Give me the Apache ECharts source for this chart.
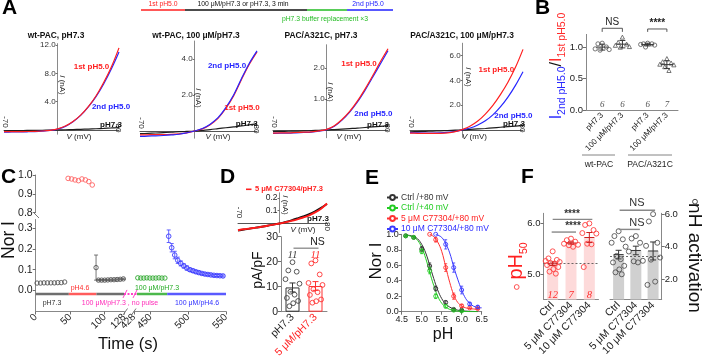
<!DOCTYPE html>
<html>
<head>
<meta charset="utf-8">
<script src="https://cdn.jsdelivr.net/npm/echarts@6.0.0/dist/echarts.min.js"></script>
<style>
html,body{margin:0;padding:0;background:#ffffff;}
#chart{width:703px;height:360px;}
</style>
</head>
<body>
<div id="chart"></div>
<script>
// ================= DATA =================
// Panel A: I-V curves (nA) at these voltages (mV)
const ivVoltage = [-70,-60,-50,-40,-30,-20,-10,0,10,20,30,40,50,60,70,80];
const a1First  = [-0.25,-0.24,-0.23,-0.22,-0.2,-0.15,-0.05,0.15,0.55,1.2,2.1,3.3,4.8,6.7,8.9,11.6];
const a1Second = [-0.3,-0.29,-0.28,-0.26,-0.23,-0.17,-0.07,0.12,0.5,1.15,2.05,3.25,4.7,6.5,8.6,11.0];
const a1Ctrl   = [-0.12,-0.1,-0.09,-0.07,-0.05,-0.04,-0.02,0,0.03,0.06,0.09,0.13,0.17,0.22,0.28,0.35];
const a2First  = [-0.22,-0.21,-0.2,-0.2,-0.19,-0.16,-0.1,0.0,0.12,0.35,0.7,1.25,1.95,2.85,3.7,4.4];
const a2Second = [-0.3,-0.28,-0.27,-0.25,-0.22,-0.18,-0.1,0.0,0.14,0.38,0.74,1.3,2.0,2.9,3.75,4.45];
const a2Ctrl   = [-0.15,-0.13,-0.11,-0.09,-0.07,-0.04,-0.02,0,0.04,0.08,0.13,0.18,0.23,0.28,0.34,0.4];
const a3First  = [-0.1,-0.09,-0.09,-0.08,-0.07,-0.06,-0.03,0.02,0.14,0.34,0.6,0.93,1.32,1.75,2.2,2.62];
const a3Second = [-0.11,-0.1,-0.1,-0.09,-0.08,-0.07,-0.04,0.01,0.12,0.32,0.58,0.9,1.28,1.7,2.13,2.56];
const a3Ctrl   = [-0.05,-0.045,-0.04,-0.035,-0.03,-0.02,-0.01,0,0.015,0.03,0.045,0.06,0.08,0.1,0.12,0.14];
const a4First  = [-0.25,-0.27,-0.28,-0.28,-0.27,-0.23,-0.13,0.05,0.32,0.72,1.28,1.98,2.85,3.85,5.05,6.5];
const a4Second = [-0.22,-0.24,-0.25,-0.25,-0.24,-0.2,-0.12,0.02,0.16,0.4,0.74,1.22,1.86,2.65,3.6,4.7];
const a4Ctrl   = [-0.15,-0.13,-0.11,-0.09,-0.07,-0.05,-0.02,0,0.04,0.08,0.12,0.17,0.22,0.27,0.31,0.35];
const aTitles  = ['wt-PAC, pH7.3','wt-PAC, 100 μM/pH7.3','PAC/A321C, pH7.3','PAC/A321C, 100 μM/pH7.3'];
const aYTicks  = [[4,8,12],[2,4],[1,2],[2,4,6]];
const aXEnds   = ['-70','80'];
const aCurveNames = ['1st pH5.0','2nd pH5.0','pH7.3'];
const aProtocol = ['1st pH5.0','100 μM/pH7.3 or pH7.3, 3 min','2nd pH5.0','pH7.3 buffer replacement ×3'];

// Panel B: I2nd/I1st ratios
const bCats    = ['pH7.3','100 μM/pH7.3','pH7.3','100 μM/pH7.3'];
const bGroups  = ['wt-PAC','PAC/A321C'];
const bWtCtrl  = [1.06,1.05,1.0,0.97,0.95,0.96];
const bWt100   = [1.15,1.07,1.04,1.02,1.0,0.99];
const bMutCtrl = [1.06,1.05,1.05,1.04,1.03,1.0];
const bMut100  = [0.81,0.76,0.74,0.72,0.71,0.68,0.62];
const bN       = ['6','6','6','7'];
const bSig     = ['NS','****'];
const bYTicks  = [0,0.5,1.0];

// Panel C: normalized current time course
const cBaseT = [2,7,12,17,22,27,32,37,42];
const cBaseV = [0.036,0.036,0.037,0.037,0.037,0.037,0.038,0.038,0.041];
const cAcidT = [47,52,57,62,67,72,77,82];
const cAcidV = [0.982,0.979,0.974,0.970,0.979,0.974,0.965,0.947];
const cWashT = [87.5,91,95.5,100,104.5,109,113.5,118,122.5,127];
const cWashV = [0.11,0.05,0.05,0.05,0.051,0.052,0.052,0.053,0.054,0.056];
const cWashE = [0.06,0.003,0.003,0.003,0.003,0.003,0.003,0.003,0.003,0.003];
const cDrugT = [433,437,441,445,449,453,457,461,465,469];
const cDrugV = [0.061,0.06,0.06,0.061,0.06,0.06,0.06,0.061,0.06,0.06];
const cRecT  = [474,478,482,486,490,494,498,502,506,510,514,518,522,526,530,534,538,542,546];
const cRecV  = [0.26,0.205,0.17,0.145,0.13,0.118,0.108,0.1,0.095,0.09,0.086,0.082,0.079,0.077,0.075,0.073,0.072,0.071,0.07];
const cRecE  = [0.03,0.02,0.018,0.015,0.012,0.01,0.01,0.008,0.008,0.007,0.007,0.006,0.006,0.006,0.005,0.005,0.005,0.005,0.005];
const cProtoStart = [0,48,88,432,472];
const cProtoEnd   = [48,88,128,472,550];
const cProtoLabel = ['pH7.3','pH4.6','100 μM/pH7.3 , no pulse','100 μM/pH7.3','100 μM/pH4.6'];
const cXTicksLeft  = [0,50,100,128];
const cXTicksRight = [428,450,500,550];
const cYTicksUp  = [0.8,0.9,1.0];
const cYTicksLow = [0,0.1,0.2,0.3];

// Panel D
const dIvCtrl = [-0.055,-0.047,-0.04,-0.032,-0.025,-0.017,-0.008,0,0.012,0.025,0.04,0.056,0.074,0.096,0.122,0.152];
const dIvDrug = [-0.052,-0.045,-0.039,-0.032,-0.025,-0.017,-0.008,0,0.01,0.021,0.033,0.047,0.064,0.087,0.116,0.156];
const dCats = ['pH7.3','5 μM/pH7.3'];
const dCtrl = [19.8,16.5,16.0,13.0,11.2,8.0,6.8,5.5,4.3,3.4,2.2];
const dDrug = [20.5,19.3,14.9,11.5,10.7,9.0,7.8,6.7,4.9,4.2,3.6];
const dN = ['11','11'];
const dSig = 'NS';
const dLegend = '5 μM C77304/pH7.3';

// Panel E: pH dependence
const eNames = ['Ctrl /+80 mV','Ctrl /+40 mV','5 μM C77304/+80 mV','10 μM C77304/+80 mV'];
const eCtrl80pH = [4.6,4.8,5.0,5.2,5.35,5.6,5.8,6.0];
const eCtrl80   = [0.98,0.96,0.81,0.59,0.3,0.12,0.03,0.02];
const eCtrl80E  = [0.01,0.01,0.03,0.04,0.03,0.02,0.01,0.01];
const eCtrl40pH = [4.6,4.8,5.0,5.2,5.35,5.6,5.8,6.0];
const eCtrl40   = [0.98,0.96,0.78,0.53,0.2,0.07,0.02,0.01];
const eCtrl40E  = [0.01,0.01,0.03,0.04,0.03,0.02,0.01,0.01];
const eDrug5pH  = [5.2,5.35,5.6,5.8,6.0,6.2,6.4];
const eDrug5    = [1.0,0.93,0.57,0.2,0.075,0.05,0.04];
const eDrug5E   = [0.0,0.03,0.05,0.04,0.02,0.01,0.01];
const eDrug10pH = [5.35,5.6,5.8,6.0,6.2,6.4];
const eDrug10   = [1.0,0.87,0.57,0.28,0.1,0.06];
const eDrug10E  = [0.0,0.06,0.06,0.05,0.02,0.02];
const eFitPH    = [4.6,4.7,4.8,4.9,5.0,5.1,5.2,5.3,5.4,5.5,5.6,5.7,5.8,5.9,6.0,6.1,6.2,6.3,6.4];
const eFitCtrl80 = [0.99,0.985,0.97,0.94,0.87,0.76,0.6,0.43,0.28,0.17,0.1,0.06,0.035,0.02,0.012,0.008,0.005,0.003,0.002];
const eFitCtrl40 = [0.99,0.98,0.96,0.92,0.83,0.69,0.51,0.34,0.2,0.11,0.06,0.03,0.015,0.008,0.004,0.002,0.001,0.0,0.0];
const eFitD5PH   = [5.2,5.3,5.4,5.5,5.6,5.7,5.8,5.9,6.0,6.1,6.2,6.3,6.4];
const eFitDrug5  = [1.0,0.97,0.9,0.78,0.58,0.38,0.22,0.12,0.075,0.05,0.04,0.035,0.03];
const eFitD10PH  = [5.35,5.4,5.5,5.6,5.7,5.8,5.9,6.0,6.1,6.2,6.3,6.4,6.5];
const eFitDrug10 = [1.0,0.99,0.96,0.88,0.76,0.58,0.42,0.28,0.17,0.11,0.07,0.055,0.05];

// Panel F
const fCats = ['Ctrl','5 μM C77304','10 μM C77304'];
const fPh50Ctrl = [5.45,5.31,5.28,5.26,5.24,5.22,5.21,5.18,5.14,5.1,5.05,5.01];
const fPh50D5   = [5.70,5.67,5.64,5.6,5.58,5.57,5.54];
const fPh50D10  = [6.0,5.97,5.87,5.81,5.8,5.6,5.59,5.14];
const fNhCtrl = [4.95,4.65,4.45,4.24,4.0,3.43,3.23,3.03,2.82,2.6,2.42,2.3];
const fNhD5   = [4.65,4.5,4.24,3.7,3.13,3.1,3.03];
const fNhD10  = [6.0,5.55,4.24,4.05,3.33,3.2,1.85,1.65];
const fN = ['12','7','8'];
const fPh50Ref = 5.22;
const fNhRef = 3.43;
const fSigLeft = ['****','****'];
const fSigRight = ['NS','NS'];
const fYTicksL = [5,6];
const fYTicksR = [2,4,6];

// ================= HELPERS =================
const FONT = '"Liberation Sans", Arial, Helvetica, sans-serif';
const SERIF = '"Liberation Serif", "Times New Roman", serif';
const AXC = '#6f6f6f', TXC = '#222';
const RED = '#ff1f1f', BLUE = '#2626ff', BLACK = '#1e1e1e';

function merge(a, b) {
  const o = Object.assign({}, a);
  for (const k in b) {
    const v = b[k];
    if (v && typeof v === 'object' && !Array.isArray(v) && a[k] && typeof a[k] === 'object' && !Array.isArray(a[k])) o[k] = merge(a[k], v);
    else o[k] = v;
  }
  return o;
}
function mean(a){return a.reduce((s,v)=>s+v,0)/a.length;}
function sd(a){const m=mean(a);return Math.sqrt(a.reduce((s,v)=>s+(v-m)*(v-m),0)/(a.length-1));}
function sem(a){return sd(a)/Math.sqrt(a.length);}
function zip(xs, ys){return xs.map((x,i)=>[x,ys[i]]);}
function spread(vals, w) {
  const order = vals.map((v,i)=>i).sort((a,b)=>vals[b]-vals[a]);
  const pat = [0,-0.6,0.6,-1,1,-0.3,0.3,-0.8,0.8,0.1,-0.45,0.45];
  const off = new Array(vals.length);
  order.forEach((k,r)=>{ off[k] = pat[r % pat.length]*w; });
  return off;
}
function vaxis(gi, min, max, extra) {
  return merge({
    type:'value', gridIndex:gi, min:min, max:max,
    splitLine:{show:false}, minorTick:{show:false},
    axisLine:{show:true, onZero:false, lineStyle:{color:AXC, width:1}},
    axisTick:{show:true, length:3, inside:false, lineStyle:{color:AXC, width:1}},
    axisLabel:{show:true, color:TXC, fontSize:9, fontFamily:FONT, margin:3},
    axisPointer:{show:false}
  }, extra || {});
}
function caxis(gi, data, extra) {
  return merge({
    type:'category', gridIndex:gi, data:data,
    splitLine:{show:false},
    axisLine:{show:true, onZero:false, lineStyle:{color:AXC, width:1}},
    axisTick:{show:false},
    axisLabel:{show:true, color:TXC, fontSize:11, fontFamily:FONT, rotate:45, interval:0, margin:4},
    axisPointer:{show:false}
  }, extra || {});
}
function fmt1(v){return Number(v).toFixed(1);}
function line(gi, data, color, w, extra) {
  return merge({type:'line', xAxisIndex:gi, yAxisIndex:gi, data:data, smooth:0.35, showSymbol:false,
    symbol:'none', silent:true, animation:false, lineStyle:{color:color, width:w}, itemStyle:{color:color}, z:3}, extra || {});
}
function marks(gi, items, color, r, shape, lw) {
  return {type:'custom', xAxisIndex:gi, yAxisIndex:gi, z:6, silent:true, data:items,
    renderItem:function(p, api){
      const c = api.coord([api.value(0), api.value(1)]);
      const x = c[0] + (api.value(2) || 0), y = c[1];
      const st = {fill:'none', stroke:color, lineWidth:lw || 1};
      if (shape === 'tri') return {type:'polygon', shape:{points:[[x,y-r*1.15],[x-r,y+r*0.75],[x+r,y+r*0.75]]}, style:st};
      return {type:'circle', shape:{cx:x, cy:y, r:r}, style:st};
    }};
}
function errs(gi, items, color, cap, meanW, lw) {
  return {type:'custom', xAxisIndex:gi, yAxisIndex:gi, z:7, silent:true, data:items,
    renderItem:function(p, api){
      const x = api.value(0), m = api.value(1), e = api.value(2);
      const cm = api.coord([x,m]), ct = api.coord([x,m+e]), cb = api.coord([x,m-e]);
      const st = {stroke:color, lineWidth:lw || 1};
      const ch = [];
      if (e > 0) {
        ch.push({type:'line', shape:{x1:ct[0],y1:ct[1],x2:cb[0],y2:cb[1]}, style:st});
        if (cap) {
          ch.push({type:'line', shape:{x1:ct[0]-cap,y1:ct[1],x2:ct[0]+cap,y2:ct[1]}, style:st});
          ch.push({type:'line', shape:{x1:cb[0]-cap,y1:cb[1],x2:cb[0]+cap,y2:cb[1]}, style:st});
        }
      }
      if (meanW) ch.push({type:'line', shape:{x1:cm[0]-meanW,y1:cm[1],x2:cm[0]+meanW,y2:cm[1]}, style:st});
      return {type:'group', children:ch};
    }};
}

// ================= GRIDS & AXES =================
const gridBoxes = [
  [4,43.6,115,90.6],      // 0 A1
  [140,41,117,97.2],      // 1 A2
  [273,44.75,115,93],     // 2 A3
  [410,43.2,113,94.2],    // 3 A4
  [586,34.4,92,75.6],     // 4 B
  [35.7,175,88.3,37.7],   // 5 C upper
  [35.7,219.5,88.3,92],   // 6 C lower-left
  [134,219.5,92,92],      // 7 C lower-right
  [238,192.8,89,39.7],    // 8 D IV
  [281,236.7,46,75],      // 9 D bar
  [401.7,234.3,80,77.4],  // 10 E
  [543.5,213.3,55,86.2],  // 11 F left
  [610,213.3,51.7,86.2]   // 12 F right
];
const grid = gridBoxes.map(b=>({left:b[0], top:b[1], width:b[2], height:b[3], outerBoundsMode:'none', containLabel:false, show:false}));
// pixel offset that puts a y axis at V = 0 inside a -70..80 mV grid
function zeroOffset(gi){ return -gridBoxes[gi][2]*70/150; }

const xAxis = [], yAxis = [];
const aRanges = [[-0.6,12.2],[-0.4,5.0],[-0.25,2.75],[-0.6,7.0]];
for (let i=0;i<4;i++){
  xAxis.push(vaxis(i,-70,80,{axisLine:{onZero:true, lineStyle:{color:'#555'}}, axisTick:{show:false}, axisLabel:{show:false}}));
  yAxis.push(vaxis(i,aRanges[i][0],aRanges[i][1],{offset:zeroOffset(i), axisLine:{onZero:false, lineStyle:{color:'#8a8a8a'}}, axisTick:{customValues:aYTicks[i], length:2},
    axisLabel:{customValues:aYTicks[i], formatter:fmt1, fontSize:8, margin:2, color:'#333'}}));
}
const bPos = [1,2,3.25,4.2];
xAxis.push(vaxis(4,0.2,4.75,{axisLine:{lineStyle:{color:'#888'}}, axisTick:{show:false},
  axisLabel:{customValues:bPos, rotate:45, fontSize:8, margin:4, formatter:function(v){const k=bPos.findIndex(p=>Math.abs(p-v)<1e-6);return k>=0?bCats[k]:'';}}}));
yAxis.push(vaxis(4,0,1.2,{axisLine:{lineStyle:{color:'#888'}}, axisTick:{customValues:bYTicks}, axisLabel:{customValues:bYTicks, formatter:fmt1, fontSize:9.5}}));
// C
xAxis.push(vaxis(5,0,128,{show:false}));
yAxis.push(vaxis(5,0.8,1.0,{axisLine:{lineStyle:{color:'#888'}}, axisTick:{customValues:cYTicksUp}, axisLabel:{customValues:cYTicksUp, formatter:fmt1, fontSize:10.5}}));
xAxis.push(vaxis(6,0,128,{axisLine:{lineStyle:{color:'#888'}}, axisTick:{customValues:cXTicksLeft}, axisLabel:{customValues:cXTicksLeft, rotate:45, fontSize:10, margin:4}}));
yAxis.push(vaxis(6,-0.1,0.34,{axisLine:{lineStyle:{color:'#888'}}, axisTick:{customValues:cYTicksLow}, axisLabel:{customValues:cYTicksLow, formatter:fmt1, fontSize:10.5}}));
xAxis.push(vaxis(7,428,550,{axisLine:{lineStyle:{color:'#888'}}, axisTick:{customValues:cXTicksRight}, axisLabel:{customValues:cXTicksRight, rotate:45, fontSize:10, margin:4}}));
yAxis.push(vaxis(7,-0.1,0.34,{show:false}));
// D
xAxis.push(vaxis(8,-70,80,{axisLine:{onZero:true, lineStyle:{color:'#555'}}, axisTick:{show:false}, axisLabel:{show:false}}));
yAxis.push(vaxis(8,-0.07,0.24,{offset:zeroOffset(8), axisLine:{onZero:false, lineStyle:{color:'#888'}}, axisTick:{customValues:[0.1,0.2], length:2},
  axisLabel:{customValues:[0.1,0.2], formatter:fmt1, fontSize:8.5, margin:2}}));
xAxis.push(caxis(9,[{value:dCats[0], textStyle:{color:'#222'}},{value:dCats[1], textStyle:{color:'#ff2020'}}],{axisLine:{lineStyle:{color:'#888'}}, axisLabel:{fontSize:10.5}}));
yAxis.push(vaxis(9,0,30,{interval:10, axisLine:{lineStyle:{color:'#888'}}, axisLabel:{fontSize:10.5}}));
// E
xAxis.push(vaxis(10,4.5,6.5,{interval:0.5, axisLine:{lineStyle:{color:'#888'}}, axisLabel:{formatter:fmt1, fontSize:9}}));
yAxis.push(vaxis(10,0,1,{interval:0.2, axisLine:{lineStyle:{color:'#888'}}, axisLabel:{formatter:fmt1, fontSize:9}}));
// F
xAxis.push(caxis(11,fCats,{axisLine:{lineStyle:{color:'#888'}}, axisLabel:{fontSize:10.5}}));
yAxis.push(vaxis(11,4.5,6.2,{axisLine:{lineStyle:{color:'#888'}}, axisTick:{customValues:fYTicksL}, axisLabel:{customValues:fYTicksL, formatter:fmt1, fontSize:9.5}}));
xAxis.push(caxis(12,fCats,{axisLine:{lineStyle:{color:'#888'}}, axisLabel:{fontSize:10.5}}));
yAxis.push(vaxis(12,0.75,6.05,{position:'right', axisLine:{lineStyle:{color:'#888'}}, axisTick:{customValues:fYTicksR}, axisLabel:{customValues:fYTicksR, formatter:fmt1, fontSize:9.5}}));

// ================= SERIES =================
const series = [];
const aSets = [[a1First,a1Second,a1Ctrl],[a2First,a2Second,a2Ctrl],[a3First,a3Second,a3Ctrl],[a4First,a4Second,a4Ctrl]];
aSets.forEach((s,i)=>{
  series.push(line(i, zip(ivVoltage,s[2]), BLACK, 1.2));
  if (i===1) { series.push(line(i, zip(ivVoltage,s[0]), RED, 1.2)); series.push(line(i, zip(ivVoltage,s[1]), BLUE, 1.2)); }
  else { series.push(line(i, zip(ivVoltage,s[1]), BLUE, 1.2)); series.push(line(i, zip(ivVoltage,s[0]), RED, 1.2)); }
});
// B
const bVals = [bWtCtrl,bWt100,bMutCtrl,bMut100];
const bShapes = ['circle','tri','circle','tri'];
bVals.forEach((vals,k)=>{
  const off = spread(vals,7);
  series.push(marks(4, vals.map((v,i)=>[bPos[k],v,off[i]]), '#555', 2.1, bShapes[k], 0.8));
});
series.push(errs(4, bVals.map((vals,k)=>[bPos[k],mean(vals),sd(vals)]), '#333', 3, 6, 1));
// C
series.push(marks(5, cAcidT.map((t,i)=>[t,cAcidV[i],0]), '#ff6464', 2.3, 'circle', 0.9));
series.push(marks(6, cBaseT.map((t,i)=>[t,cBaseV[i],0]), '#555', 2.2, 'circle', 0.9));
series.push(marks(6, cWashT.map((t,i)=>[t,cWashV[i],0]), '#555', 2.2, 'circle', 0.9));
series.push(errs(6, cWashT.map((t,i)=>[t,cWashV[i],cWashE[i]]), '#555', 2, 0, 0.8));
series.push(marks(7, cDrugT.map((t,i)=>[t,cDrugV[i],0]), '#2ea82e', 2.2, 'circle', 0.9));
series.push(marks(7, cRecT.map((t,i)=>[t,cRecV[i],0]), '#3c3cff', 2.3, 'circle', 0.9));
series.push(errs(7, cRecT.map((t,i)=>[t,cRecV[i],cRecE[i]]), '#3c3cff', 2, 0, 0.8));
const protoColors = ['#6e6e6e','#ff5c5c','#6e6e6e','#4cb84c','#5a5aff'];
cProtoStart.forEach((s,k)=>{
  const gi = s < 200 ? 6 : 7;
  series.push(line(gi, [[s,-0.016],[cProtoEnd[k],-0.016]], protoColors[k], 2.6, {smooth:false, z:2}));
});
// D
series.push(line(8, zip(ivVoltage,dIvCtrl), '#111', 1.9));
series.push(line(8, zip(ivVoltage,dIvDrug), '#ff1a1a', 1.9));
series.push({type:'bar', xAxisIndex:9, yAxisIndex:9, barWidth:14, silent:true, z:2,
  data:[{value:mean(dCtrl), itemStyle:{color:'rgba(0,0,0,0)', borderColor:'#333', borderWidth:1}},
        {value:mean(dDrug), itemStyle:{color:'rgba(255,0,0,0.02)', borderColor:'#ff3333', borderWidth:1}}]});
const dOff1 = spread(dCtrl,7), dOff2 = spread(dDrug,7);
series.push(marks(9, dCtrl.map((v,i)=>[0,v,dOff1[i]]), '#444', 2.4, 'circle', 0.9));
series.push(marks(9, dDrug.map((v,i)=>[1,v,dOff2[i]]), '#ff3333', 2.4, 'circle', 0.9));
series.push(errs(9, [[0,mean(dCtrl),sem(dCtrl)]], '#333', 3, 0, 1));
series.push(errs(9, [[1,mean(dDrug),sem(dDrug)]], '#ff3333', 3, 0, 1));
// E
const eCol = ['#333333','#22cc22','#ff3030','#3a3aff'];
const eFits = [[eFitPH,eFitCtrl80],[eFitPH,eFitCtrl40],[eFitD5PH,eFitDrug5],[eFitD10PH,eFitDrug10]];
const ePts = [[eCtrl80pH,eCtrl80,eCtrl80E],[eCtrl40pH,eCtrl40,eCtrl40E],[eDrug5pH,eDrug5,eDrug5E],[eDrug10pH,eDrug10,eDrug10E]];
eFits.forEach((f,k)=>{
  series.push(line(10, zip(f[0],f[1]), eCol[k], 1, {name:eNames[k], symbol:'emptyCircle', symbolSize:4, showSymbol:false, smooth:0.4}));
});
ePts.forEach((p,k)=>{
  series.push(marks(10, p[0].map((x,i)=>[x,p[1][i],0]), eCol[k], 2, 'circle', 0.9));
  series.push(errs(10, p[0].map((x,i)=>[x,p[1][i],p[2][i]]), eCol[k], 1.5, 0, 0.8));
});
// F
series.push({type:'bar', xAxisIndex:11, yAxisIndex:11, barWidth:11, silent:true, z:2,
  itemStyle:{color:'#fddada'},
  data:[mean(fPh50Ctrl),mean(fPh50D5),mean(fPh50D10)],
  markLine:{silent:true, symbol:'none', label:{show:false}, lineStyle:{type:[2,2], color:'#444', width:0.8}, data:[{yAxis:fPh50Ref}]}});
series.push({type:'bar', xAxisIndex:12, yAxisIndex:12, barWidth:11, silent:true, z:2,
  itemStyle:{color:'#d0d0d0'},
  data:[mean(fNhCtrl),mean(fNhD5),mean(fNhD10)],
  markLine:{silent:true, symbol:'none', label:{show:false}, lineStyle:{type:[2,2], color:'#444', width:0.8}, data:[{yAxis:fNhRef}]}});
const fL = [fPh50Ctrl,fPh50D5,fPh50D10], fR = [fNhCtrl,fNhD5,fNhD10];
fL.forEach((vals,k)=>{ const off=spread(vals,7); series.push(marks(11, vals.map((v,i)=>[k,v,off[i]]), '#ff4040', 2.5, 'circle', 0.9)); });
fR.forEach((vals,k)=>{ const off=spread(vals,7); series.push(marks(12, vals.map((v,i)=>[k,v,off[i]]), '#555', 2.5, 'circle', 0.9)); });
series.push(errs(11, fL.map((vals,k)=>[k,mean(vals),sem(vals)]), '#cc2222', 3, 5, 1));
series.push(errs(12, fR.map((vals,k)=>[k,mean(vals),sem(vals)]), '#333', 3, 5, 1));

// ================= CHART =================
const chart = echarts.init(document.getElementById('chart'), null, {renderer:'canvas', width:703, height:360});
chart.setOption({
  animation:false,
  backgroundColor:'#ffffff',
  textStyle:{fontFamily:FONT},
  grid:grid, xAxis:xAxis, yAxis:yAxis, series:series,
  legend:[{
    show:true, orient:'vertical', left:386, top:193, itemWidth:11, itemHeight:6, itemGap:1.5,
    selectedMode:false, padding:0,
    textStyle:{fontSize:8.5, fontFamily:FONT, lineHeight:8, padding:[0,0,0,-2]},
    data:eNames.map((n,k)=>({name:n, textStyle:{color:['#333','#22cc22','#ff2020','#2a2aff'][k]}}))
  }]
});

// ================= ANNOTATIONS =================
function P(gi,x,y){return chart.convertToPixel({gridIndex:gi},[x,y]);}
function T(text,x,y,o){
  o = o || {};
  const st = {text:text, fill:o.color||TXC, fontSize:o.size||9, fontFamily:o.family||FONT,
    fontWeight:o.bold?'bold':'normal', fontStyle:o.italic?'italic':'normal',
    align:o.align||'center', verticalAlign:o.va||'middle', textAlign:o.align||'center', textVerticalAlign:o.va||'middle'};
  if (o.rich) st.rich = o.rich;
  return {type:'text', x:x, y:y, rotation:o.rot||0, silent:true, z:100, style:st};
}
function L(x1,y1,x2,y2,color,w,dash){
  return {type:'line', silent:true, z:100, shape:{x1:x1,y1:y1,x2:x2,y2:y2}, style:{stroke:color, lineWidth:w||1, lineDash:dash||null}};
}
const g = [];
// panel letters
[['A',2,8.5],['B',535,8.5],['C',1,177],['D',220,177],['E',365,178],['F',521,177]].forEach(p=>{
  g.push(T(p[0],p[1],p[2],{size:21,bold:true,align:'left',color:'#000'}));
});
// A: protocol bar
g.push(L(141,10,185,10,'#ff2020',1.6));
g.push(L(185,10,307,10,'#111',1.6));
g.push(L(307,10,347,10,'#22bb22',1.6));
g.push(L(347,10,393,10,'#2020ff',1.6));
g.push(T(aProtocol[0],163,4.5,{size:6.8,color:'#ff2020'}));
g.push(T(aProtocol[1],243,4.5,{size:6.8,color:'#111'}));
g.push(T(aProtocol[2],368,4.5,{size:6.8,color:'#2020ff'}));
g.push(T(aProtocol[3],325,18.7,{size:6.8,color:'#22bb22'}));
// A subplots
const aTitleX = [56,196,321,462];
const aINA = [[62,85],[198,98],[330,92],[468,77]];
const aVMV = [[79,136.5],[218,136.5],[349,137],[474.5,136.5]];
const aLab = [
  [[91.5,66.7],[111,106.7],[111,125]],
  [[242,108],[227,65.7],[246.7,124]],
  [[359,63.3],[373.3,114],[378,125]],
  [[496.3,69.3],[513.3,116],[514,124]]
];
const italicRich = function(size){return {i:{fontStyle:'italic', fontSize:size, fontFamily:FONT, fill:TXC}};};
for (let i=0;i<4;i++){
  g.push(T(aTitles[i],aTitleX[i],36,{size:8.4,bold:true,color:'#111'}));
  g.push(T('{i|I} (nA)',aINA[i][0],aINA[i][1],{size:8,rot:-Math.PI/2,rich:italicRich(8)}));
  g.push(T('{i|V} (mV)',aVMV[i][0],aVMV[i][1],{size:8,rich:italicRich(8)}));
  const p0 = P(i,-70,0), p1 = P(i,80,0);
  g.push(T(aXEnds[0],p0[0]+1,p0[1]-8,{size:8,rot:-Math.PI/2}));
  g.push(T(aXEnds[1],p1[0]-1,p1[1]-2,{size:8,rot:-Math.PI/2}));
  g.push(T(aCurveNames[0],aLab[i][0][0],aLab[i][0][1],{size:8,bold:true,color:RED}));
  g.push(T(aCurveNames[1],aLab[i][1][0],aLab[i][1][1],{size:8,bold:true,color:BLUE}));
  g.push(T(aCurveNames[2],aLab[i][2][0],aLab[i][2][1],{size:8,bold:true,color:'#111'}));
}
// B annotations
g.push(T('{a|I}{b|2nd pH5.0}{c|/}{d|I}{e|1st pH5.0}',558,66,{size:10,rot:Math.PI/2,rich:{
  a:{fontSize:16,fill:'#2a2aff',fontFamily:FONT,padding:[0,0,3,0],verticalAlign:'bottom'},
  b:{fontSize:10.5,fill:'#2a2aff',fontFamily:FONT,verticalAlign:'bottom'},
  c:{fontSize:16,fill:'#111',fontFamily:FONT,padding:[0,0,3,0],verticalAlign:'bottom'},
  d:{fontSize:16,fill:'#ff2a2a',fontFamily:FONT,padding:[0,0,3,0],verticalAlign:'bottom'},
  e:{fontSize:10.5,fill:'#ff2a2a',fontFamily:FONT,verticalAlign:'bottom'}}}));
[[0,1],[2,3]].forEach((pr,k)=>{
  const yTop = k===0?1.297:1.286;
  const a = P(4,bPos[pr[0]],yTop), b = P(4,bPos[pr[1]],yTop), a2 = P(4,bPos[pr[0]],1.24);
  g.push(L(a[0],a[1],b[0],b[1],'#444',0.9));
  g.push(L(a[0],a[1],a[0],a2[1],'#444',0.9));
  g.push(L(b[0],b[1],b[0],a2[1],'#444',0.9));
  const t = P(4,(bPos[pr[0]]+bPos[pr[1]])/2,k===0?1.39:1.37);
  g.push(T(bSig[k],t[0],t[1],{size:10,bold:k===1,color:'#222'}));
});
bN.forEach((n,k)=>{ const p=P(4,bPos[k],0.08); g.push(T(n,p[0],p[1],{size:9,italic:true,family:SERIF,color:'#555'})); });
g.push(L(582,155,615,155,'#777',0.9));
g.push(L(628,155,672,155,'#777',0.9));
g.push(T(bGroups[0],599,165,{size:8.6}));
g.push(T(bGroups[1],650,165,{size:8.6}));
// C annotations
g.push(T('Nor I',9,240,{size:17.5,rot:Math.PI/2,color:'#111'}));
g.push(T('Time (s)',128,344,{size:16.5,color:'#111'}));
g.push(L(33,212,39,218,'#777',1));
g.push(L(123,315,127.5,308.5,'#777',1));
g.push(L(131.5,315,136,308.5,'#777',1));
{
  const m1 = P(6,128,-0.016), m2 = P(7,432,-0.016);
  g.push(L(m1[0],m1[1],m2[0],m2[1],'#ff40c8',2,[2,1.5]));
  g.push(L(m1[0]-1,m1[1]+4,m1[0]+3,m1[1]-4,'#ff40c8',1));
  g.push(L(m2[0]-4,m2[1]+4,m2[0],m2[1]-4,'#ff40c8',1));
}
g.push(T(cProtoLabel[0],52,302.7,{size:7,color:'#333'}));
g.push(T(cProtoLabel[1],80,288,{size:7,color:'#ff3030'}));
g.push(T(cProtoLabel[2],120,303,{size:7,color:'#ff2ab8'}));
g.push(T(cProtoLabel[3],157,288,{size:7,color:'#22aa22'}));
g.push(T(cProtoLabel[4],197,303,{size:7,color:'#3030ff'}));
// D annotations
g.push(L(246,189.3,251.5,189.3,'#ff2020',1.6));
g.push(T(dLegend,255,189.3,{size:7.5,bold:true,color:'#ff2020',align:'left'}));
g.push(T('{i|I} (nA)',285,205,{size:8,rot:-Math.PI/2,rich:italicRich(8)}));
g.push(T('{i|V} (mV)',303,230,{size:8,rich:italicRich(8)}));
g.push(T('pH7.3',318,218.3,{size:8,bold:true,color:'#111'}));
{
  const p0 = P(8,-70,0), p1 = P(8,80,0);
  g.push(T(aXEnds[0],p0[0]+1,p0[1]-11,{size:8,rot:-Math.PI/2}));
  g.push(T(aXEnds[1],p1[0],p1[1]+3,{size:8,rot:-Math.PI/2}));
}
g.push(T('pA/pF',258,270,{size:14,rot:Math.PI/2,color:'#111'}));
{
  const a = P(9,0,25.4), b = P(9,1,25.4), t = P(9,0.5,28);
  g.push(L(a[0]+1,a[1],b[0]+3,b[1],'#888',1.3));
  g.push(T(dSig,t[0]+2,t[1],{size:10.5,color:'#222'}));
  dN.forEach((n,k)=>{ const p=P(9,k,22.7); g.push(T(n,p[0],p[1],{size:11,italic:true,family:SERIF,color:k?'#ff3030':'#444'})); });
}
// E annotations
g.push(T('Nor I',376,261,{size:17,rot:Math.PI/2,color:'#111'}));
g.push(T('pH',443,335,{size:16,color:'#111'}));
// F annotations
g.push(T('{a|pH}{b|50}',518,261,{size:20,rot:Math.PI/2,color:'#ff2020',rich:{
  a:{fontSize:20,fill:'#ff2020',fontFamily:FONT,padding:[0,0,4,0],verticalAlign:'bottom'},
  b:{fontSize:10.5,fill:'#ff2020',fontFamily:FONT,verticalAlign:'bottom'}}}));
g.push({type:'circle', silent:true, z:100, shape:{cx:516.7, cy:287, r:2.4}, style:{fill:'none', stroke:'#ff4040', lineWidth:0.9}});
g.push(T('nH activation',694,258,{size:19,rot:-Math.PI/2,color:'#111'}));
g.push({type:'circle', silent:true, z:100, shape:{cx:695, cy:201.7, r:2.4}, style:{fill:'none', stroke:'#333', lineWidth:0.9}});
{
  let a = P(11,0,5.83), b = P(11,1,5.83), t = P(11,0.5,5.95);
  g.push(L(a[0]-1,a[1],b[0]+5,b[1],'#888',1.4));
  g.push(T(fSigLeft[0],t[0]+2,t[1],{size:10,bold:true,color:'#333'}));
  a = P(11,0,6.08); b = P(11,2,6.08); t = P(11,1,6.19);
  g.push(L(a[0],a[1],b[0]+3,b[1],'#888',1.4));
  g.push(T(fSigLeft[1],t[0]+1,t[1],{size:10,bold:true,color:'#333'}));
  a = P(12,0,5.06); b = P(12,1,5.06); t = P(12,0.5,5.48);
  g.push(L(a[0],a[1],b[0]+4,b[1],'#888',1.4));
  g.push(T(fSigRight[0],t[0]+1,t[1],{size:11,color:'#333'}));
  a = P(12,0,6.24); b = P(12,2,6.24); t = P(12,1,6.66);
  g.push(L(a[0]+1,a[1],b[0]+2,b[1],'#888',1.4));
  g.push(T(fSigRight[1],t[0]+1,t[1],{size:11,color:'#333'}));
  fN.forEach((n,k)=>{ const p=P(11,k,4.59); g.push(T(n,p[0],p[1],{size:10.5,italic:true,family:SERIF,color:'#ff3030'})); });
}
chart.setOption({graphic:{elements:g}});
</script>
</body>
</html>
